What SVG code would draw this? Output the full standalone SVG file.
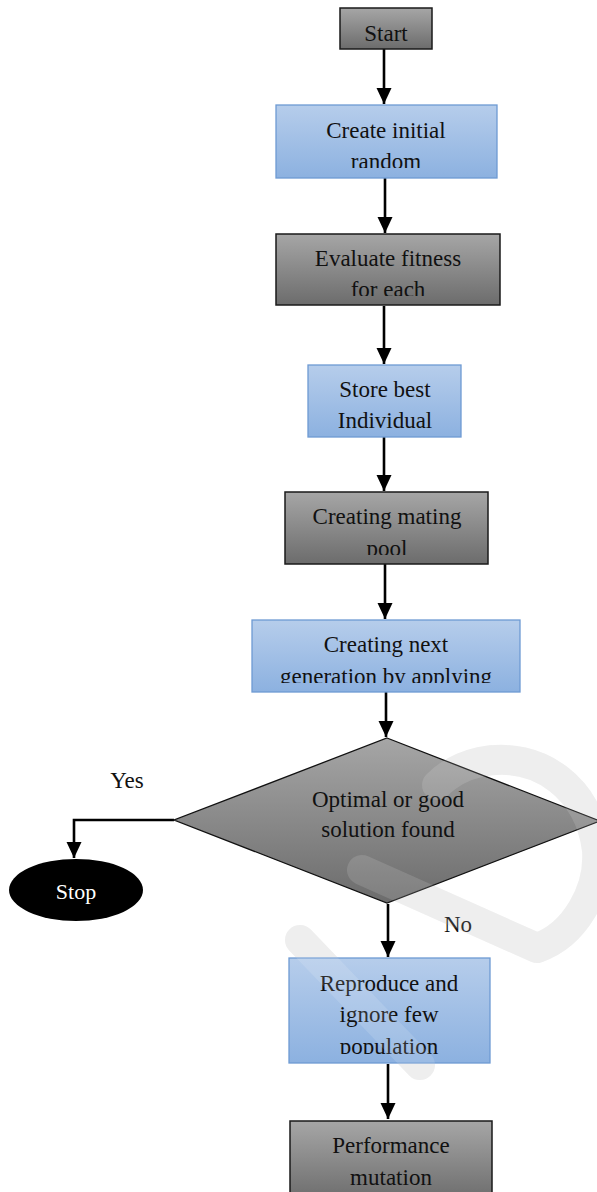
<svg xmlns="http://www.w3.org/2000/svg" width="597" height="1192" viewBox="0 0 597 1192">
<defs>
<style>
.t{font-family:"Liberation Serif","Times New Roman",serif;font-size:23px;fill:#111;text-anchor:middle}
.blue{fill:url(#gb);stroke:#6e9ad3;stroke-width:1.3}
.gray{fill:url(#gg);stroke:#1a1a1a;stroke-width:1.5}
.c{fill:none;stroke:#000;stroke-width:2.6;marker-end:url(#ah)}
.wm{fill:none;stroke:#ececec;stroke-width:30;stroke-linecap:round;stroke-linejoin:round}
.wm2{fill:none;stroke:#fff;stroke-opacity:0.13;stroke-width:30;stroke-linecap:round;stroke-linejoin:round}
</style>
<linearGradient id="gb" x1="0" y1="0" x2="0" y2="1"><stop offset="0" stop-color="#b6cdeb"/><stop offset="1" stop-color="#8cb1e0"/></linearGradient>
<linearGradient id="gg" x1="0" y1="0" x2="0" y2="1"><stop offset="0" stop-color="#a6a6a6"/><stop offset="1" stop-color="#6c6c6c"/></linearGradient>
<marker id="ah" markerUnits="userSpaceOnUse" markerWidth="16" markerHeight="16" refX="16" refY="7.5" orient="auto"><path d="M0,0 L16,7.5 L0,15 z" fill="#000"/></marker>
<clipPath id="c1"><rect x="276" y="105" width="222" height="63"/></clipPath>
<clipPath id="c2"><rect x="276" y="234" width="225" height="62"/></clipPath>
<clipPath id="c4"><rect x="285" y="492" width="204" height="63"/></clipPath>
<clipPath id="c5"><rect x="252" y="620" width="268" height="63"/></clipPath>
<clipPath id="c6"><rect x="288" y="958" width="203" height="96"/></clipPath>
<path id="wmp" d="M300 940 L420 1065 M362 870 L537 948 C575 935 600 890 597 850 C590 790 540 750 480 762 C462 766 448 774 437 785"/>
</defs>
<rect width="597" height="1192" fill="#fff"/>
<use href="#wmp" class="wm"/>

<g id="connectors">
<line class="c" x1="384" y1="49" x2="384" y2="104"/>
<line class="c" x1="385" y1="178" x2="385" y2="233"/>
<line class="c" x1="384" y1="306" x2="384" y2="364"/>
<line class="c" x1="384" y1="437" x2="384" y2="491"/>
<line class="c" x1="385" y1="564" x2="385" y2="619"/>
<line class="c" x1="386" y1="692" x2="386" y2="737"/>
<polyline class="c" points="174,820 74,820 74,858"/>
<line class="c" x1="388" y1="904" x2="388" y2="957"/>
<line class="c" x1="388" y1="1064" x2="388" y2="1119"/>
</g>

<g id="start">
<rect class="gray" x="340" y="8" width="92" height="41"/>
<text class="t" x="386" y="41">Start</text>
</g>
<g id="create">
<rect class="blue" x="276" y="105" width="221" height="73"/>
<g clip-path="url(#c1)"><text class="t" x="386" y="138">Create initial</text><text class="t" x="386" y="169">random</text></g>
</g>
<g id="evaluate">
<rect class="gray" x="276" y="234" width="224" height="71"/>
<g clip-path="url(#c2)"><text class="t" x="388" y="266">Evaluate fitness</text><text class="t" x="388" y="297">for each</text></g>
</g>
<g id="store">
<rect class="blue" x="308" y="365" width="153" height="72"/>
<text class="t" x="385" y="397">Store best</text>
<text class="t" x="385" y="428">Individual</text>
</g>
<g id="mating">
<rect class="gray" x="285" y="492" width="203" height="72"/>
<g clip-path="url(#c4)"><text class="t" x="387" y="524">Creating mating</text><text class="t" x="387" y="556">pool</text></g>
</g>
<g id="nextgen">
<rect class="blue" x="252" y="620" width="268" height="72"/>
<g clip-path="url(#c5)"><text class="t" x="386" y="652">Creating next</text><text class="t" x="386" y="684">generation by applying</text></g>
</g>
<g id="decision">
<polygon points="387,738 600,821 387,903 174,820" fill="url(#gg)" stroke="#111" stroke-width="1.3"/>
<text class="t" x="388" y="807">Optimal or good</text>
<text class="t" x="388" y="837">solution found</text>
</g>
<g id="stop">
<ellipse cx="76" cy="890" rx="67" ry="31" fill="#000"/>
<text class="t" x="76" y="899" style="fill:#fff;font-size:22px">Stop</text>
</g>
<g id="labels">
<text class="t" x="127" y="788">Yes</text>
<text class="t" x="458" y="932">No</text>
</g>
<g id="reproduce">
<rect class="blue" x="289" y="958" width="201" height="105"/>
<g clip-path="url(#c6)"><text class="t" x="389" y="991">Reproduce and</text><text class="t" x="389" y="1022">ignore few</text><text class="t" x="389" y="1054">population</text></g>
</g>
<g id="mutation">
<rect class="gray" x="290" y="1121" width="202" height="80"/>
<text class="t" x="391" y="1153">Performance</text>
<text class="t" x="391" y="1185">mutation</text>
</g>
<use href="#wmp" class="wm2"/>
</svg>
